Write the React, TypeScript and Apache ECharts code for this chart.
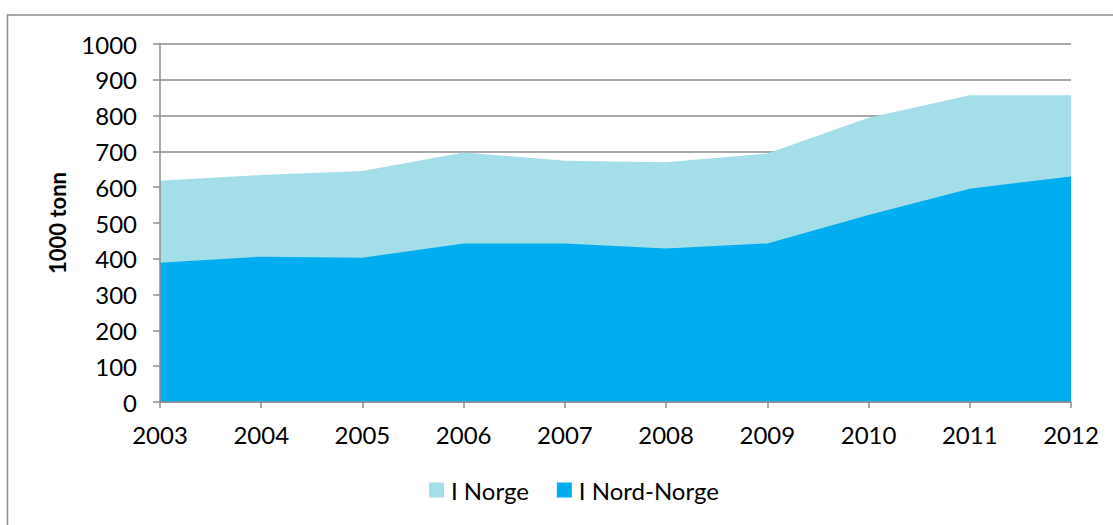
import React, { useEffect, useRef } from "react";
import * as echarts from "echarts";

const years = ["2003", "2004", "2005", "2006", "2007", "2008", "2009", "2010", "2011", "2012"];
const iNorge = [618, 634, 645, 697, 674, 670, 694, 794, 857, 857];
const iNordNorge = [389, 406, 403, 443, 443, 429, 443, 522, 596, 630];
const seriesNames = ["I Norge", "I Nord-Norge"];
const yAxisTitle = "1000 tonn";

const FONT = "Lato, 'Open Sans', sans-serif";
const LIGHT = "#a3dee9";
const DARK = "#00adee";
const GRAY = "#8c8c8c";

export default function App() {
  const ref = useRef<HTMLDivElement>(null);
  useEffect(() => {
    document.body.style.margin = "0";
    const chart = echarts.init(ref.current!, null, { renderer: "svg" });
    chart.setOption({
      animation: false,
      backgroundColor: "#ffffff",
      textStyle: { fontFamily: FONT },
      graphic: [
        {
          type: "rect",
          shape: { x: 7.5, y: 15, width: 1300, height: 700 },
          style: { fill: "none", stroke: GRAY, lineWidth: 1.5 },
          silent: true,
        },
      ],
      legend: {
        bottom: 18,
        left: 424,
        icon: "rect",
        itemWidth: 15,
        itemHeight: 15,
        itemGap: 28,
        data: seriesNames,
        textStyle: { fontSize: 24, color: "#000", fontFamily: FONT, padding: [0, 0, 0, 2] },
      },
      grid: { left: 160, right: 42, top: 44, bottom: 123 },
      xAxis: {
        type: "category",
        data: years,
        boundaryGap: false,
        z: 5,
        axisLine: { lineStyle: { color: GRAY, width: 1.5 } },
        axisTick: { show: true, length: 6, alignWithLabel: true, lineStyle: { color: GRAY, width: 1.5 } },
        axisLabel: { fontSize: 24, color: "#000", margin: 20, fontFamily: FONT },
        splitLine: { show: false },
      },
      yAxis: [
        {
          type: "value",
          min: 0,
          max: 1000,
          interval: 100,
          name: yAxisTitle,
          nameLocation: "middle",
          nameGap: 92,
          nameTextStyle: { fontSize: 22, fontWeight: "bold", color: "#000", fontFamily: FONT },
          axisLine: { show: false },
          axisTick: { show: false },
          axisLabel: { fontSize: 24, color: "#000", margin: 23, fontFamily: FONT, formatter: (v: number) => String(v) },
          splitLine: { show: true, lineStyle: { color: GRAY, width: 1.5 } },
        },
        {
          type: "value",
          min: 0,
          max: 1000,
          interval: 100,
          position: "left",
          z: 5,
          axisLine: { show: true, lineStyle: { color: GRAY, width: 1.5 } },
          axisTick: { show: true, length: 7, lineStyle: { color: GRAY, width: 1.5 } },
          axisLabel: { show: false },
          splitLine: { show: false },
        },
      ],
      series: [
        {
          name: seriesNames[0],
          type: "line",
          data: iNorge,
          symbol: "none",
          lineStyle: { width: 0 },
          itemStyle: { color: LIGHT },
          areaStyle: { color: LIGHT, opacity: 1 },
        },
        {
          name: seriesNames[1],
          type: "line",
          data: iNordNorge,
          symbol: "none",
          lineStyle: { width: 0 },
          itemStyle: { color: DARK },
          areaStyle: { color: DARK, opacity: 1 },
        },
      ],
    });
    return () => chart.dispose();
  }, []);
  return <div ref={ref} style={{ width: 1113, height: 525 }} />;
}
